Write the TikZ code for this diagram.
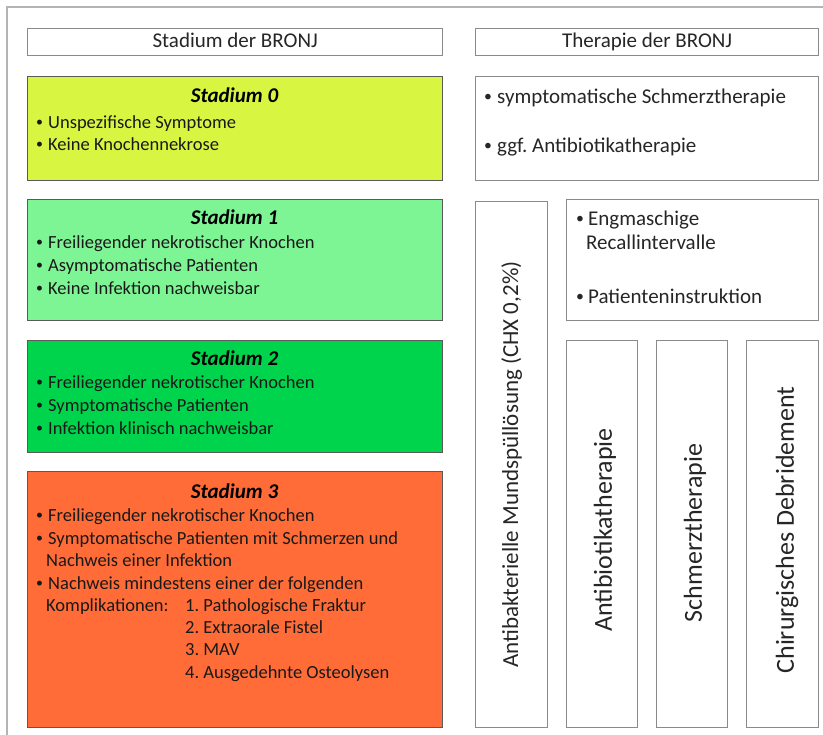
\documentclass[tikz,border=0pt]{standalone}
\usepackage{fontspec}
\setmainfont{Carlito}
\frenchspacing
\definecolor{st0}{HTML}{D8F542}
\definecolor{st1}{HTML}{7DF595}
\definecolor{st2}{HTML}{00D44C}
\definecolor{st3}{HTML}{FF6C37}
\definecolor{edgegray}{HTML}{8A8A8A}
\definecolor{darkedge}{HTML}{5A5A5A}
\definecolor{framegray}{HTML}{B4B4B4}
\definecolor{txtgray}{HTML}{262626}
\newcommand\bulitem[1]{\makebox[#1][l]{\raisebox{0.1em}{\scalebox{0.75}{•}}}}
\begin{document}
\begin{tikzpicture}[x=1pt,y=-1pt,
 box/.style={draw=edgegray, line width=1.3pt, rectangle, anchor=north west, inner sep=0pt},
 cbox/.style={box, draw=darkedge},
 bodyline/.style={anchor=west, inner sep=0pt, yshift=-4pt, text height=0.75em, text depth=0.25em, font=\fontsize{18.5}{22}\selectfont, text=black!90},
 rline/.style={bodyline, font=\fontsize{21}{25}\selectfont, text=txtgray},
 stitle/.style={inner sep=0pt, yshift=-4pt, font=\fontsize{21}{25}\selectfont\bfseries\itshape, text height=0.75em, text depth=0.25em},
 hdr/.style={inner sep=0pt, yshift=-3pt, font=\fontsize{21}{25}\selectfont, text=txtgray, text height=.75em, text depth=.25em},
 vtxt/.style={inner sep=0pt, rotate=90, font=\fontsize{26}{30}\selectfont, text=txtgray},
]
\useasboundingbox (0,0) rectangle (823,735);
\fill[white] (0,0) rectangle (823,735);
\draw[framegray, line width=1.2pt] (7,735) -- (7,7) -- (823,7);

% headers
\node[box, minimum width=415pt, minimum height=27pt] (h1) at (27,28) {};
\node[box, minimum width=343pt, minimum height=27pt] (h2) at (475,28) {};
\node[hdr] (h1t) at (h1.center) {Stadium der BRONJ};
\node[hdr] (h2t) at (h2.center) {Therapie der BRONJ};

% left stadium boxes
\node[cbox, fill=st0, minimum width=415pt, minimum height=104pt] (s0) at (27,76) {};
\node[cbox, fill=st1, minimum width=415pt, minimum height=121pt] (s1) at (27,199) {};
\node[cbox, fill=st2, minimum width=415pt, minimum height=112pt] (s2) at (27,340) {};
\node[cbox, fill=st3, minimum width=415pt, minimum height=256pt] (s3) at (27,471) {};

\node[stitle] (s0t) at (234.5,96) {Stadium 0};
\node[bodyline] (s0a) at (36,122) {\bulitem{12pt}Unspezifische Symptome};
\node[bodyline] (s0b) at (36,144) {\bulitem{12pt}Keine Knochennekrose};

\node[stitle] (s1t) at (234.5,218) {Stadium 1};
\node[bodyline] (s1a) at (36,242) {\bulitem{12pt}Freiliegender nekrotischer Knochen};
\node[bodyline] (s1b) at (36,265) {\bulitem{12pt}Asymptomatische Patienten};
\node[bodyline] (s1c) at (36,288) {\bulitem{12pt}Keine Infektion nachweisbar};

\node[stitle] (s2t) at (234.5,359) {Stadium 2};
\node[bodyline] (s2a) at (36,382) {\bulitem{12pt}Freiliegender nekrotischer Knochen};
\node[bodyline] (s2b) at (36,405) {\bulitem{12pt}Symptomatische Patienten};
\node[bodyline] (s2c) at (36,428) {\bulitem{12pt}Infektion klinisch nachweisbar};

\node[stitle] (s3t) at (234.5,492) {Stadium 3};
\node[bodyline] (s3a) at (36,515) {\bulitem{12pt}Freiliegender nekrotischer Knochen};
\node[bodyline] (s3b) at (36,538) {\bulitem{12pt}Symptomatische Patienten mit Schmerzen und};
\node[bodyline] (s3c) at (46,560) {Nachweis einer Infektion};
\node[bodyline] (s3d) at (36,583) {\bulitem{12pt}Nachweis mindestens einer der folgenden};
\node[bodyline] (s3e) at (46,605) {Komplikationen:};
\node[bodyline] (s3f) at (185,605) {1. Pathologische Fraktur};
\node[bodyline] (s3g) at (185,627) {2. Extraorale Fistel};
\node[bodyline] (s3h) at (185,649) {3. MAV};
\node[bodyline] (s3i) at (185,672) {4. Ausgedehnte Osteolysen};

% right therapy boxes
\node[box, minimum width=343pt, minimum height=104pt] (r0) at (475,76) {};
\node[rline] (r0a) at (484,97) {\bulitem{13pt}symptomatische Schmerztherapie};
\node[rline] (r0b) at (484,146) {\bulitem{13pt}ggf. Antibiotikatherapie};

\node[box, minimum width=72pt, minimum height=526pt] (v0) at (475,201) {};
\node[box, minimum width=252pt, minimum height=121pt] (r1) at (566,199) {};
\node[rline] (r1a) at (576,219) {\bulitem{12pt}Engmaschige};
\node[rline] (r1b) at (586,243) {Recallintervalle};
\node[rline] (r1c) at (576,297) {\bulitem{12pt}Patienteninstruktion};

\node[box, minimum width=71pt, minimum height=387pt] (v1) at (566,340) {};
\node[box, minimum width=71pt, minimum height=387pt] (v2) at (656,340) {};
\node[box, minimum width=72pt, minimum height=387pt] (v3) at (746,340) {};

\node[vtxt, font=\fontsize{23}{27}\selectfont] (v0t) at (v0.center) {Antibakterielle Mundspüllösung (CHX 0,2\%)};
\node[vtxt] (v1t) at (605,530) {Antibiotikatherapie};
\node[vtxt] (v2t) at (695,533) {Schmerztherapie};
\node[vtxt] (v3t) at (787,530) {Chirurgisches Debridement};
\end{tikzpicture}
\end{document}
